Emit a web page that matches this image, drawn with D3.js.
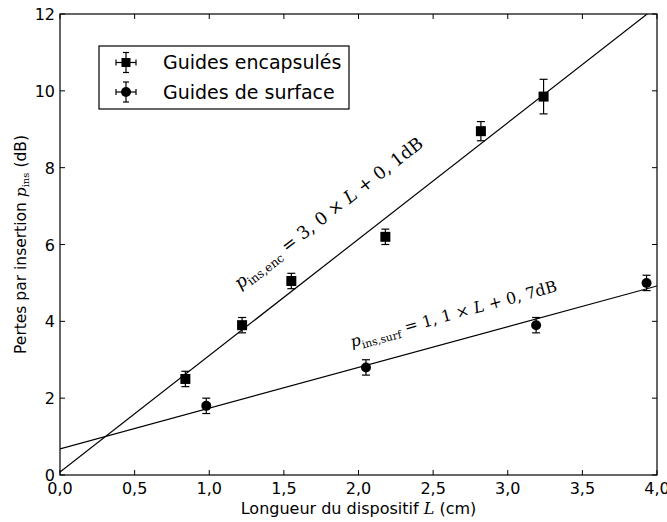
<!DOCTYPE html>
<html><head><meta charset="utf-8">
<script src="https://cdn.jsdelivr.net/npm/d3@7"></script>
<style>body{margin:0;background:#fff}svg{display:block}</style>
</head><body><div id="c"></div>
<script>
const encL = [0.84, 1.22, 1.55, 2.18, 2.82, 3.24];
const encP = [2.5, 3.9, 5.05, 6.2, 8.95, 9.85];
const encErr = [0.2, 0.2, 0.2, 0.2, 0.25, 0.45];
const surfL = [0.98, 2.05, 3.19, 3.93];
const surfP = [1.8, 2.8, 3.9, 5.0];
const surfErr = [0.2, 0.2, 0.2, 0.2];
const fitEnc = {slope: 3.03, intercept: 0.08};
const fitSurf = {slope: 1.06, intercept: 0.68};
const xTicks = [0, 0.5, 1, 1.5, 2, 2.5, 3, 3.5, 4];
const yTicks = [0, 2, 4, 6, 8, 10, 12];
const legendLabels = ["Guides encapsulés", "Guides de surface"];

const W = 667, H = 522;
const m = {l: 60, r: 10, t: 14, b: 47};
const svg = d3.select("#c").append("svg").attr("width", W).attr("height", H);
const x = d3.scaleLinear().domain([0, 4]).range([m.l, W - m.r]);
const y = d3.scaleLinear().domain([0, 12]).range([H - m.b, m.t]);
const font = "DejaVu Sans, sans-serif";
const serif = "DejaVu Serif, serif";

svg.append("clipPath").attr("id", "cp").append("rect")
  .attr("x", x(0)).attr("y", y(12)).attr("width", x(4) - x(0)).attr("height", y(0) - y(12));

const g = svg.append("g").attr("clip-path", "url(#cp)");
[fitEnc, fitSurf].forEach(f => {
  g.append("line").attr("x1", x(0)).attr("y1", y(f.intercept))
    .attr("x2", x(4)).attr("y2", y(f.slope * 4 + f.intercept))
    .attr("stroke", "#000").attr("stroke-width", 1.2);
});

function errbars(sel, L, P, E) {
  L.forEach((l, i) => {
    const cx = x(l);
    sel.append("line").attr("x1", cx).attr("x2", cx).attr("y1", y(P[i] - E[i])).attr("y2", y(P[i] + E[i])).attr("stroke", "#000").attr("stroke-width", 1.2);
    [P[i] - E[i], P[i] + E[i]].forEach(v => sel.append("line").attr("x1", cx - 4).attr("x2", cx + 4).attr("y1", y(v)).attr("y2", y(v)).attr("stroke", "#000").attr("stroke-width", 1.2));
  });
}
errbars(g, encL, encP, encErr);
errbars(g, surfL, surfP, surfErr);
g.selectAll(".sq").data(encL).enter().append("rect")
  .attr("x", d => x(d) - 5).attr("y", (d, i) => y(encP[i]) - 5).attr("width", 10).attr("height", 10).attr("fill", "#000");
g.selectAll(".ci").data(surfL).enter().append("circle")
  .attr("cx", d => x(d)).attr("cy", (d, i) => y(surfP[i])).attr("r", 5).attr("fill", "#000");

svg.append("rect").attr("x", x(0)).attr("y", y(12)).attr("width", x(4) - x(0)).attr("height", y(0) - y(12))
  .attr("fill", "none").attr("stroke", "#000").attr("stroke-width", 1.2);

const tl = 5;
xTicks.forEach(t => {
  svg.append("line").attr("x1", x(t)).attr("x2", x(t)).attr("y1", y(0)).attr("y2", y(0) - tl).attr("stroke", "#000");
  svg.append("line").attr("x1", x(t)).attr("x2", x(t)).attr("y1", y(12)).attr("y2", y(12) + tl).attr("stroke", "#000");
  svg.append("text").attr("x", x(t)).attr("y", y(0) + 19).attr("text-anchor", "middle")
    .attr("font-family", font).attr("font-size", 16).text(d3.format(".1f")(t).replace(".", ","));
});
yTicks.forEach(t => {
  svg.append("line").attr("x1", x(0)).attr("x2", x(0) + tl).attr("y1", y(t)).attr("y2", y(t)).attr("stroke", "#000");
  svg.append("line").attr("x1", x(4)).attr("x2", x(4) - tl).attr("y1", y(t)).attr("y2", y(t)).attr("stroke", "#000");
  svg.append("text").attr("x", x(0) - 5).attr("y", y(t) + 6).attr("text-anchor", "end")
    .attr("font-family", font).attr("font-size", 16).text(t);
});

const xl = svg.append("text").attr("x", (x(0) + x(4)) / 2).attr("y", 514).attr("text-anchor", "middle")
  .attr("font-family", font).attr("font-size", 16);
xl.append("tspan").text("Longueur du dispositif ");
xl.append("tspan").attr("font-family", serif).attr("font-style", "italic").text("L");
xl.append("tspan").text(" (cm)");

const yl = svg.append("text").attr("transform", `translate(26,${(y(0) + y(12)) / 2}) rotate(-90)`).attr("text-anchor", "middle")
  .attr("font-family", font).attr("font-size", 15.5);
yl.append("tspan").text("Pertes par insertion ");
yl.append("tspan").attr("font-family", serif).attr("font-style", "italic").text("p");
yl.append("tspan").attr("font-family", serif).attr("font-size", 10).attr("dy", 3).text("ins");
yl.append("tspan").attr("dy", -3).text(" (dB)");

function fitLabel(f, L0, offset, sub, a, b, fs) {
  const ang = Math.atan2(y(f.slope * 1 + f.intercept) - y(f.intercept), x(1) - x(0)) * 180 / Math.PI;
  const px = x(L0), py = y(f.slope * L0 + f.intercept) - offset;
  const t = svg.append("text").attr("transform", `translate(${px},${py}) rotate(${ang})`)
    .attr("font-family", serif).attr("font-size", fs);
  t.append("tspan").attr("font-style", "italic").text("p");
  t.append("tspan").attr("font-size", fs * 0.68).attr("dy", 4).text(sub);
  t.append("tspan").attr("dy", -4).text(" = " + a + " × ");
  t.append("tspan").attr("font-style", "italic").text("L");
  t.append("tspan").text(" + " + b + "dB");
}
fitLabel(fitEnc, 1.206, 42, "ins,enc", "3, 0", "0, 1", 17.5);
fitLabel(fitSurf, 1.957, 22, "ins,surf", "1, 1", "0, 7", 15.8);

const lg = svg.append("g");
lg.append("rect").attr("x", 99).attr("y", 46).attr("width", 250).attr("height", 63).attr("fill", "#fff").attr("stroke", "#000").attr("stroke-width", 1.2);
legendLabels.forEach((lab, i) => {
  const cy = 62.5 + i * 29.5, cx = 126;
  lg.append("line").attr("x1", cx).attr("x2", cx).attr("y1", cy - 10).attr("y2", cy + 10).attr("stroke", "#000").attr("stroke-width", 1.2);
  lg.append("line").attr("x1", cx - 3).attr("x2", cx + 3).attr("y1", cy - 10).attr("y2", cy - 10).attr("stroke", "#000").attr("stroke-width", 1.2);
  lg.append("line").attr("x1", cx - 3).attr("x2", cx + 3).attr("y1", cy + 10).attr("y2", cy + 10).attr("stroke", "#000").attr("stroke-width", 1.2);
  lg.append("line").attr("x1", cx - 10).attr("x2", cx + 10).attr("y1", cy).attr("y2", cy).attr("stroke", "#000").attr("stroke-width", 1.2);
  lg.append("line").attr("x1", cx - 10).attr("x2", cx - 10).attr("y1", cy - 3).attr("y2", cy + 3).attr("stroke", "#000").attr("stroke-width", 1.2);
  lg.append("line").attr("x1", cx + 10).attr("x2", cx + 10).attr("y1", cy - 3).attr("y2", cy + 3).attr("stroke", "#000").attr("stroke-width", 1.2);
  if (i === 0) lg.append("rect").attr("x", cx - 4.5).attr("y", cy - 4.5).attr("width", 9).attr("height", 9).attr("fill", "#000");
  else lg.append("circle").attr("cx", cx).attr("cy", cy).attr("r", 5).attr("fill", "#000");
  lg.append("text").attr("x", 163).attr("y", cy + 6.5).attr("font-family", font).attr("font-size", 19).text(lab);
});
</script></body></html>
